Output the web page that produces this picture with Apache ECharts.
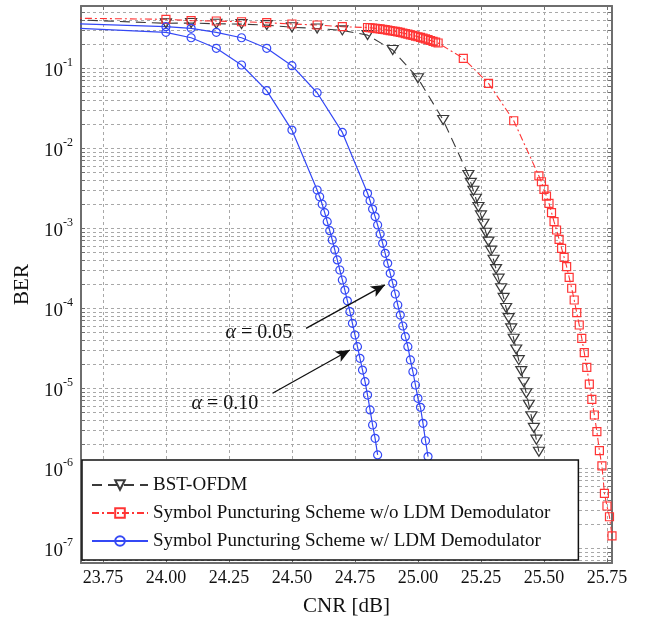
<!DOCTYPE html>
<html><head><meta charset="utf-8">
<script src="https://cdn.jsdelivr.net/npm/echarts@6/dist/echarts.min.js"></script>
<style>html,body{margin:0;padding:0;background:#fff}#c{width:652px;height:627px}</style>
</head><body><div id="c"></div>
<script>
// ---------- data ----------
const xTickValues = [23.75, 24.00, 24.25, 24.50, 24.75, 25.00, 25.25, 25.50, 25.75];
const yLabelValues = [1e-7, 1e-6, 1e-5, 1e-4, 1e-3, 1e-2, 1e-1];

const bstCnr = [23.5, 24.0, 24.1, 24.2, 24.3, 24.4, 24.5, 24.6, 24.7, 24.8, 24.9, 25.0, 25.1,
  25.20, 25.21, 25.22, 25.23, 25.24, 25.25, 25.26, 25.27, 25.28, 25.29,
  25.30, 25.31, 25.32, 25.33, 25.34, 25.35, 25.36, 25.37, 25.38, 25.39,
  25.40, 25.41, 25.42, 25.43, 25.44, 25.45, 25.46, 25.47, 25.48];
const bstBer = [0.42, 0.366, 0.368, 0.36, 0.357, 0.347, 0.326, 0.315, 0.298, 0.26, 0.169, 0.075, 0.0226,
  4.64e-3, 3.70e-3, 2.95e-3, 2.34e-3, 1.85e-3, 1.45e-3, 1.14e-3, 8.81e-4, 6.82e-4, 5.26e-4,
  4.04e-4, 3.09e-4, 2.35e-4, 1.78e-4, 1.35e-4, 1.01e-4, 7.54e-5, 5.61e-5, 4.16e-5, 3.06e-5,
  2.25e-5, 1.64e-5, 1.19e-5, 8.66e-6, 6.24e-6, 4.48e-6, 3.20e-6, 2.28e-6, 1.61e-6];

const woCnr = [23.5, 24.0, 24.1, 24.2, 24.3, 24.4, 24.5, 24.6, 24.7,
  24.80, 24.81, 24.82, 24.83, 24.84, 24.85, 24.86, 24.87, 24.88, 24.89,
  24.90, 24.91, 24.92, 24.93, 24.94, 24.95, 24.96, 24.97, 24.98, 24.99,
  25.00, 25.01, 25.02, 25.03, 25.04, 25.05, 25.06, 25.07, 25.08,
  25.18, 25.28, 25.38,
  25.48, 25.49, 25.50, 25.51, 25.52, 25.53, 25.54, 25.55, 25.56, 25.57,
  25.58, 25.59, 25.60, 25.61, 25.62, 25.63, 25.64, 25.65, 25.66, 25.67,
  25.68, 25.69, 25.70, 25.71, 25.72, 25.73, 25.74, 25.75, 25.76, 25.77];
const woBer = [0.428, 0.410, 0.394, 0.390, 0.382, 0.372, 0.358, 0.348, 0.331,
  0.3236, 0.3213, 0.3189, 0.3162, 0.3133, 0.3103, 0.3072, 0.3038, 0.3003, 0.2966,
  0.2928, 0.2888, 0.2847, 0.2805, 0.2761, 0.2716, 0.2670, 0.2624, 0.2576, 0.2528,
  0.2480, 0.2430, 0.2380, 0.2329, 0.2278, 0.2226, 0.2175, 0.2123, 0.2071,
  0.1334, 0.0649, 0.0221,
  4.51e-3, 3.82e-3, 3.07e-3, 2.53e-3, 2.05e-3, 1.57e-3, 1.21e-3, 9.53e-4, 7.29e-4, 5.62e-4,
  4.34e-4, 3.31e-4, 2.44e-4, 1.78e-4, 1.27e-4, 8.81e-5, 6.18e-5, 4.22e-5, 2.79e-5, 1.83e-5,
  1.13e-5, 7.29e-6, 4.64e-6, 2.87e-6, 1.66e-6, 1.07e-6, 4.87e-7, 3.38e-7, 2.48e-7, 1.43e-7];

const w005Cnr = [23.5, 24.0, 24.1, 24.2, 24.3, 24.4, 24.5, 24.6, 24.7,
  24.80, 24.81, 24.82, 24.83, 24.84, 24.85, 24.86, 24.87, 24.88, 24.89,
  24.90, 24.91, 24.92, 24.93, 24.94, 24.95, 24.96, 24.97, 24.98, 24.99,
  25.00, 25.01, 25.02, 25.03, 25.04];
const w005Ber = [0.372, 0.331, 0.316, 0.282, 0.241, 0.178, 0.108, 0.0495, 0.0158,
  2.74e-3, 2.21e-3, 1.74e-3, 1.40e-3, 1.10e-3, 8.49e-4, 6.49e-4, 4.87e-4, 3.65e-4, 2.74e-4,
  2.05e-4, 1.51e-4, 1.10e-4, 8.24e-5, 6.01e-5, 4.42e-5, 3.31e-5, 2.26e-5, 1.61e-5, 1.10e-5,
  7.50e-6, 5.79e-6, 3.65e-6, 2.21e-6, 1.40e-6];

const w010Cnr = [23.5, 24.0, 24.1, 24.2, 24.3, 24.4, 24.5,
  24.60, 24.61, 24.62, 24.63, 24.64, 24.65, 24.66, 24.67, 24.68, 24.69,
  24.70, 24.71, 24.72, 24.73, 24.74, 24.75, 24.76, 24.77, 24.78, 24.79,
  24.80, 24.81, 24.82, 24.83, 24.84];
const w010Ber = [0.334, 0.282, 0.241, 0.178, 0.110, 0.0525, 0.0169,
  3.01e-3, 2.48e-3, 2.00e-3, 1.57e-3, 1.21e-3, 9.33e-4, 7.14e-4, 5.36e-4, 4.02e-4, 3.01e-4,
  2.26e-4, 1.69e-4, 1.24e-4, 9.07e-5, 6.49e-5, 4.64e-5, 3.31e-5, 2.37e-5, 1.69e-5, 1.21e-5,
  8.24e-6, 5.36e-6, 3.48e-6, 2.37e-6, 1.47e-6];

const seriesNames = ['BST-OFDM', 'Symbol Puncturing Scheme w/o LDM Demodulator', 'Symbol Puncturing Scheme w/ LDM Demodulator'];
const annotationTexts = ['0.05', '0.10'];
// ---------- end data ----------

const X_MIN = 23.663, X_MAX = 25.77, Y_MIN = 6.55e-8, Y_MAX = 0.601;
const SERIF = 'Liberation Serif';
const GRID_COLOR = '#a8a8a8';
const FRAME = '#6e6e6e';

const yTickValues = [];
for (let e = -8; e <= -1; e++) for (let m = 1; m <= 9; m++) {
  const v = parseFloat((m * Math.pow(10, e)).toPrecision(6));
  if (v >= Y_MIN && v <= Y_MAX) yTickValues.push(v);
}
const zip = (a, b) => a.map((x, i) => [x, b[i]]);

const hollow = c => ({ color: 'rgba(0,0,0,0)', borderColor: c, borderWidth: 1.2 });
const BLACK = '#3a3a3a', RED = '#ff3535', BLUE = '#3448f5';

const chart = echarts.init(document.getElementById('c'), null, { renderer: 'canvas' });
chart.setOption({
  animation: false,
  backgroundColor: '#fff',
  grid: { left: 81, right: 40, top: 6, bottom: 64, containLabel: false },
  xAxis: [{
    type: 'value', min: X_MIN, max: X_MAX, position: 'bottom',
    name: 'CNR [dB]', nameLocation: 'middle', nameGap: 33,
    nameTextStyle: { fontFamily: SERIF, fontSize: 21, color: '#111' },
    axisLine: { show: true, onZero: false, lineStyle: { color: FRAME, width: 2 } },
    axisTick: { show: true, inside: true, length: 4, customValues: xTickValues, lineStyle: { color: FRAME } },
    axisLabel: { customValues: xTickValues, formatter: v => v.toFixed(2), margin: 6,
      fontFamily: SERIF, fontSize: 18, color: '#111' },
    splitLine: { show: true, lineStyle: { color: GRID_COLOR, type: [3, 3], width: 1 } }
  }, {
    type: 'value', min: X_MIN, max: X_MAX, position: 'top',
    axisLine: { show: true, onZero: false, lineStyle: { color: FRAME, width: 2 } },
    axisTick: { show: true, inside: true, length: 4, customValues: xTickValues, lineStyle: { color: FRAME } },
    axisLabel: { show: false }, splitLine: { show: false }
  }],
  yAxis: [{
    type: 'log', logBase: 10, min: Y_MIN, max: Y_MAX, position: 'left',
    name: 'BER', nameLocation: 'middle', nameGap: 48, nameRotate: 90,
    nameTextStyle: { fontFamily: SERIF, fontSize: 21, color: '#111' },
    axisLine: { show: true, onZero: false, lineStyle: { color: FRAME, width: 2 } },
    axisTick: { show: true, inside: true, length: 4, customValues: yTickValues, lineStyle: { color: FRAME } },
    axisLabel: {
      customValues: yLabelValues, margin: 8,
      formatter: v => '{a|10}{b|' + Math.round(Math.log10(v)) + '}',
      rich: {
        a: { fontFamily: SERIF, fontSize: 19, color: '#111', padding: [6, 0, 0, 0] },
        b: { fontFamily: SERIF, fontSize: 12, color: '#111', padding: [0, 0, 10, 0] }
      }
    },
    splitLine: { show: true, lineStyle: { color: GRID_COLOR, type: [3, 3], width: 1 } }
  }, {
    type: 'log', logBase: 10, min: Y_MIN, max: Y_MAX, position: 'right',
    axisLine: { show: true, onZero: false, lineStyle: { color: FRAME, width: 2 } },
    axisTick: { show: true, inside: true, length: 4, customValues: yTickValues, lineStyle: { color: FRAME } },
    axisLabel: { show: false }, splitLine: { show: false }
  }],
  legend: {
    data: seriesNames, orient: 'vertical', left: 82, top: 460,
    padding: [15, 28, 9, 9], itemGap: 8, itemWidth: 56, itemHeight: 12,
    backgroundColor: '#fff', borderColor: '#111', borderWidth: 1.5, borderRadius: 0,
    textStyle: { fontFamily: SERIF, fontSize: 19, lineHeight: 20, color: '#111' },
    z: 10
  },
  series: [{
    name: seriesNames[0], type: 'line', data: zip(bstCnr, bstBer),
    symbol: 'triangle', symbolRotate: 180, symbolSize: [11, 9], showAllSymbol: true,
    lineStyle: { color: BLACK, width: 1.1, type: [10, 6] }, itemStyle: hollow(BLACK),
    markLine: {
      silent: true, symbol: ['none', 'arrow'], symbolSize: [9, 14],
      lineStyle: { color: '#111', width: 1.3, type: 'solid' }, label: { show: false },
      data: [
        [{ coord: [24.556, 5.62e-5] }, { coord: [24.869, 1.96e-4] }],
        [{ coord: [24.423, 8.66e-6] }, { coord: [24.730, 3.01e-5] }]
      ]
    },
    markPoint: {
      silent: true, symbol: 'rect', symbolSize: 1, itemStyle: { color: 'rgba(0,0,0,0)' },
      label: {
        show: true, position: 'inside', color: '#111',
        formatter: p => '{i|α} = ' + p.name,
        rich: { i: { fontFamily: SERIF, fontStyle: 'italic', fontSize: 20, color: '#111' } },
        fontFamily: SERIF, fontSize: 20
      },
      data: [
        { name: annotationTexts[0], coord: [24.369, 4.91e-5] },
        { name: annotationTexts[1], coord: [24.234, 6.37e-6] }
      ]
    }
  }, {
    name: seriesNames[1], type: 'line', data: zip(woCnr, woBer),
    symbol: 'rect', symbolSize: 8, showAllSymbol: true,
    lineStyle: { color: RED, width: 1.1, type: [7, 3, 2, 3] }, itemStyle: hollow(RED)
  }, {
    name: seriesNames[2], type: 'line', data: zip(w005Cnr, w005Ber),
    symbol: 'circle', symbolSize: 8, showAllSymbol: true,
    lineStyle: { color: BLUE, width: 1.2, type: 'solid' }, itemStyle: hollow(BLUE)
  }, {
    name: seriesNames[2], type: 'line', data: zip(w010Cnr, w010Ber),
    symbol: 'circle', symbolSize: 8, showAllSymbol: true,
    lineStyle: { color: BLUE, width: 1.2, type: 'solid' }, itemStyle: hollow(BLUE)
  }]
});
</script></body></html>
